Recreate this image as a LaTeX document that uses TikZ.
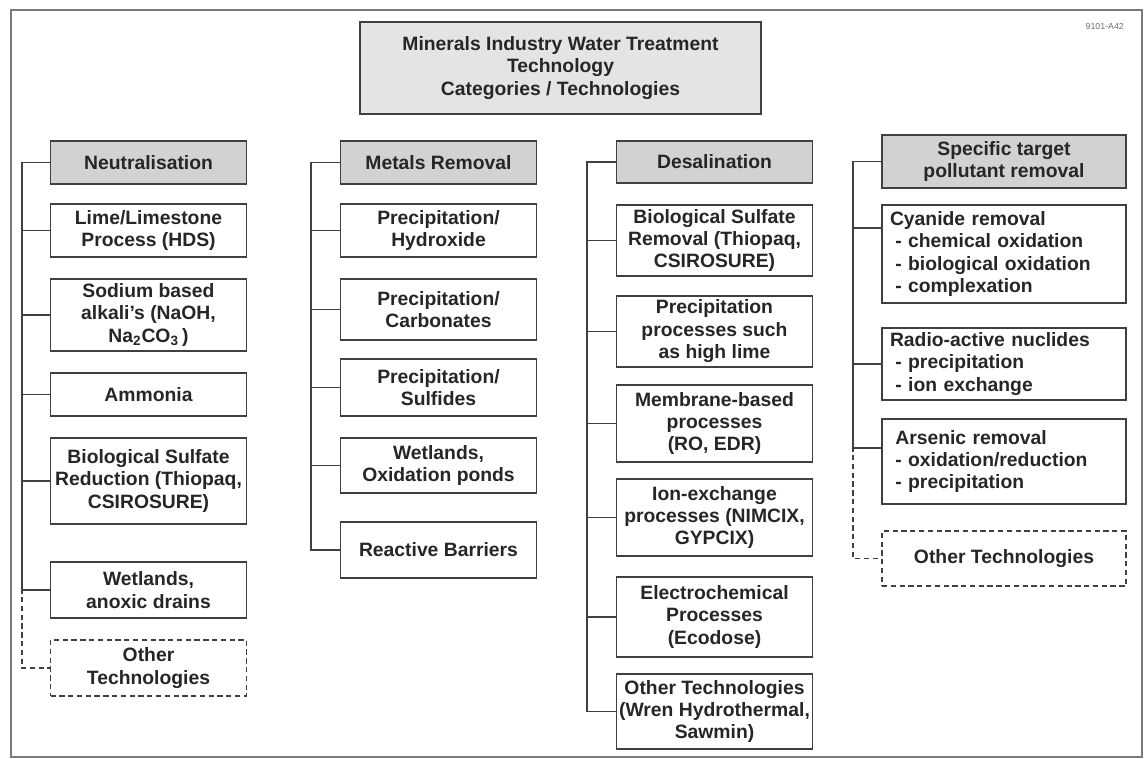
\documentclass[tikz,border=0pt]{standalone}
\usepackage{fontspec}
\setmainfont{Liberation Sans}
\usepackage{tikz}
\usetikzlibrary{calc}
\definecolor{ink}{HTML}{262626}
\definecolor{edge}{HTML}{404040}
\definecolor{headfill}{HTML}{D2D2D2}
\definecolor{titlefill}{HTML}{E4E4E4}
\definecolor{muted}{HTML}{6E6E6E}
\definecolor{rule}{HTML}{7A7A7A}
\tikzset{
  techbox/.style={draw=edge,fill=white,line width=1.1pt,align=center,inner sep=0pt,text=ink},
  headbox/.style={techbox,fill=headfill},
  otherbox/.style={techbox,dash pattern=on 3pt off 2pt},
  narrow/.style={minimum width=3.92cm},
  wide/.style={minimum width=4.88cm},
  link/.style={draw=edge,line width=1.1pt},
  otherlink/.style={link,dash pattern=on 3pt off 2pt},
}

\begin{document}
\begin{tikzpicture}[x=0.02cm,y=-0.02cm,font=\bfseries\fontsize{11}{12.8}\selectfont]
  \def\xa{148.5}\def\xb{438.5}\def\xc{714.5}\def\xd{1004}
  \useasboundingbox (0,0) rectangle (1145,759);
  % frame
  \draw[rule,line width=0.9pt] (11,10) rectangle (1142,757);
  \node[anchor=east,font=\fontsize{5}{6}\selectfont,text=muted] (tag) at (1130,26) {9101-A42};
  % title
  \node[headbox,fill=titlefill,minimum width=8.02cm,minimum height=1.84cm] (title) at (560.5,68)
    {Minerals Industry Water Treatment\\Technology\\Categories / Technologies};
  % neutralisation
  \node[headbox,narrow,minimum height=0.86cm] (neut) at (\xa,162.5) {Neutralisation};
  \node[techbox,narrow,minimum height=1.06cm] (lime) at (\xa,230.5) {Lime/Limestone\\Process (HDS)};
  \node[techbox,narrow,minimum height=1.44cm] (sodium) at (\xa,315) {Sodium based\\alkali’s (NaOH,\\Na\textsubscript{2}CO\textsubscript{3}\,)};
  \node[techbox,narrow,minimum height=0.86cm] (ammonia) at (\xa,394.5) {Ammonia};
  \node[techbox,narrow,minimum height=1.72cm] (biosr) at (\xa,481) {Biological Sulfate\\Reduction (Thiopaq,\\CSIROSURE)};
  \node[techbox,narrow,minimum height=1.12cm] (wetl) at (\xa,590) {Wetlands,\\anoxic drains};
  \node[otherbox,narrow,minimum height=1.12cm] (othera) at (\xa,668) {Other\\Technologies};
  % metals removal
  \node[headbox,narrow,minimum height=0.86cm] (metals) at (\xb,162.5) {Metals Removal};
  \node[techbox,narrow,minimum height=1.06cm] (hydro) at (\xb,230.5) {Precipitation/\\Hydroxide};
  \node[techbox,narrow,minimum height=1.22cm] (carb) at (\xb,309.5) {Precipitation/\\Carbonates};
  \node[techbox,narrow,minimum height=1.14cm] (sulf) at (\xb,387.5) {Precipitation/\\Sulfides};
  \node[techbox,narrow,minimum height=1.10cm] (wetb) at (\xb,465.5) {Wetlands,\\Oxidation ponds};
  \node[techbox,narrow,minimum height=1.12cm] (reac) at (\xb,550) {Reactive Barriers};
  % desalination
  \node[headbox,narrow,minimum height=0.84cm] (desal) at (\xc,162) {Desalination};
  \node[techbox,narrow,minimum height=1.42cm] (biosc) at (\xc,240.5) {Biological Sulfate\\Removal (Thiopaq,\\CSIROSURE)};
  \node[techbox,narrow,minimum height=1.42cm] (precip) at (\xc,331.5) {Precipitation\\processes such\\as high lime};
  \node[techbox,narrow,minimum height=1.54cm] (memb) at (\xc,423.5) {Membrane-based\\processes\\(RO, EDR)};
  \node[techbox,narrow,minimum height=1.54cm] (ionx) at (\xc,517.5) {Ion-exchange\\processes (NIMCIX,\\GYPCIX)};
  \node[techbox,narrow,minimum height=1.60cm] (elec) at (\xc,617) {Electrochemical\\Processes\\(Ecodose)};
  \node[techbox,narrow,minimum height=1.50cm] (otherc) at (\xc,711.5) {Other Technologies\\(Wren Hydrothermal,\\Sawmin)};
  % specific target pollutants
  \node[headbox,wide,minimum height=1.06cm] (spec) at (\xd,161.5) {Specific target\\pollutant removal};
  \node[techbox,wide,minimum height=1.96cm,text width=4.56cm,align=left] (cyan) at (\xd,254)
    {Cyanide removal\\\hspace{3pt}- chemical oxidation\\\hspace{3pt}- biological oxidation\\\hspace{3pt}- complexation};
  \node[techbox,wide,minimum height=1.44cm,text width=4.56cm,align=left] (radio) at (\xd,364)
    {Radio-active nuclides\\\hspace{3pt}- precipitation\\\hspace{3pt}- ion exchange};
  \node[techbox,wide,minimum height=1.70cm,text width=4.56cm,align=left] (arsen) at (\xd,461.5)
    {\hspace{3pt}Arsenic removal\\\hspace{3pt}- oxidation/reduction\\\hspace{3pt}- precipitation};
  \node[otherbox,wide,minimum height=1.10cm] (otherd) at (\xd,558.5) {Other Technologies};
  % branches
  \foreach \c in {lime,sodium,ammonia,biosr,wetl}
    \draw[link] (neut.west) -- ++(-28,0) |- (\c.west);
  \draw[otherlink] (wetl.west) -- ++(-28,0) |- (othera.west);
  \foreach \c in {hydro,carb,sulf,wetb,reac}
    \draw[link] (metals.west) -- ++(-29,0) |- (\c.west);
  \foreach \c in {biosc,precip,memb,ionx,elec,otherc}
    \draw[link] (desal.west) -- ++(-29,0) |- (\c.west);
  \draw[link] (spec.west) -- ++(-28,0) |- ([yshift=0.52cm]cyan.west);
  \draw[link] (spec.west) -- ++(-28,0) |- (radio.west);
  \draw[link] (spec.west) -- ++(-28,0) |- ([yshift=0.27cm]arsen.west);
  \draw[otherlink] ([yshift=0.27cm]arsen.west) -- ++(-28,0) |- (otherd.west);
\end{tikzpicture}
\end{document}
